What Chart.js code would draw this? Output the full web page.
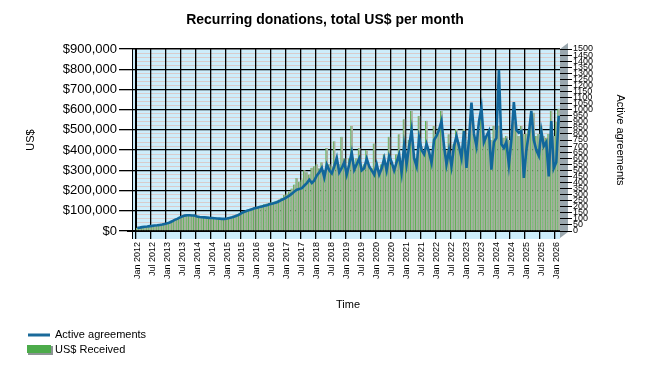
<!DOCTYPE html>
<html>
<head>
<meta charset="utf-8">
<script src="https://cdn.jsdelivr.net/npm/chart.js@4/dist/chart.umd.min.js"></script>
<style>
  html, body { margin: 0; padding: 0; background: #fff; }
</style>
</head>
<body>
<canvas id="chart" width="650" height="375"></canvas>
<script>
// month labels, Jan 2012 .. Feb 2026
var monthNames = ['Jan','Feb','Mar','Apr','May','Jun','Jul','Aug','Sep','Oct','Nov','Dec'];
var firstYear = 2012;
var monthCount = 170;

// US$ received per month
var usdReceived = [
  16000,18000,20000,22000,24000,25000,27000,28000,30000,32000,34000,37000,
  40000,45000,50000,57000,63000,70000,76000,80000,82000,82000,80000,80000,
  74000,72000,70000,70000,68000,67000,66000,65000,64000,63000,63000,62000,
  64000,68000,71000,75000,80000,86000,93000,98000,103000,108000,112000,118000,
  120000,124000,128000,132000,136000,140000,143000,146000,150000,156000,165000,178000,
  185000,195000,210000,230000,262000,245000,255000,300000,290000,280000,313000,320000,
  330000,310000,340000,300000,411000,330000,320000,444000,340000,330000,466000,360000,
  310000,360000,519000,330000,360000,411000,320000,330000,400000,320000,310000,433000,
  340000,300000,330000,380000,320000,466000,330000,320000,380000,478000,330000,552000,
  360000,450000,594000,380000,360000,569000,420000,400000,545000,400000,370000,519000,
  480000,510000,594000,430000,400000,478000,380000,430000,504000,440000,400000,505000,
  420000,450000,600000,480000,440000,500000,560000,470000,470000,500000,450000,520000,
  500000,520000,480000,460000,470000,450000,470000,540000,500000,470000,519000,480000,
  480000,500000,560000,585000,470000,480000,520000,470000,460000,480000,594000,470000,
  540000,605000
];

// active agreements per month (right axis)
var activeAgreements = [
  25,28,32,35,37,40,42,45,47,50,53,58,
  63,70,80,92,100,110,120,127,130,130,128,128,
  120,115,113,112,110,108,107,105,103,102,100,100,
  103,108,113,120,127,137,150,158,167,173,180,187,
  192,197,202,208,213,220,225,230,237,247,258,267,
  280,292,308,325,340,347,353,375,395,423,395,417,
  458,483,520,442,547,500,475,533,603,483,520,567,
  465,550,647,505,550,597,500,517,597,533,500,465,
  550,465,517,597,500,617,567,500,567,630,483,705,
  550,700,832,600,533,768,667,633,717,650,562,750,
  783,833,907,700,550,667,533,700,782,700,603,823,
  520,750,1058,800,700,900,1017,733,783,823,505,733,
  767,1328,717,685,733,547,750,1063,833,810,823,437,
  667,800,990,750,667,620,823,700,733,450,907,517,
  567,950
];

var labels = [];
for (var i = 0; i < monthCount; i++) {
  labels.push(monthNames[i % 12] + ' ' + (firstYear + Math.floor(i / 12)));
}

var FONT = '"Liberation Sans", Arial, sans-serif';

var decor = {
  id: 'decor',
  beforeDraw: function(chart) {
    var c = chart.ctx, a = chart.chartArea;
    c.save();
    // back wall + floor
    c.fillStyle = '#cdedfb';
    c.fillRect(a.left - 4, a.top, a.right - a.left + 4, a.bottom - a.top + 8);
    // right wall
    c.fillStyle = '#9aa7ae';
    c.beginPath();
    c.moveTo(a.right, a.top);
    c.lineTo(a.right + 8, a.top - 6);
    c.lineTo(a.right + 8, a.bottom + 1);
    c.lineTo(a.right, a.bottom + 7);
    c.closePath();
    c.fill();
    // top edge
    c.strokeStyle = '#a0a4a8';
    c.lineWidth = 2;
    c.beginPath();
    c.moveTo(a.left - 4, a.top);
    c.lineTo(a.right, a.top);
    c.stroke();
    c.restore();
  },
  afterDraw: function(chart) {
    var c = chart.ctx, a = chart.chartArea;
    c.save();
    // front edge lines
    c.strokeStyle = '#000';
    c.lineWidth = 1;
    c.beginPath();
    c.moveTo(a.left - 3.5, a.top);
    c.lineTo(a.left - 3.5, a.bottom + 8);
    c.moveTo(a.left - 9, a.bottom + 0.5);
    c.lineTo(a.left, a.bottom + 0.5);
    c.stroke();

    // title
    c.fillStyle = '#000';
    c.font = 'bold 14px ' + FONT;
    c.textAlign = 'center';
    c.textBaseline = 'middle';
    c.fillText('Recurring donations, total US$ per month', 325, 20);

    // legend
    c.textAlign = 'left';
    c.font = '11px ' + FONT;
    c.strokeStyle = '#1a6a9a';
    c.lineWidth = 3;
    c.beginPath();
    c.moveTo(28, 335);
    c.lineTo(50, 335);
    c.stroke();
    c.fillStyle = '#000';
    c.fillText('Active agreements', 55, 335);
    c.fillStyle = '#8c9494';
    c.fillRect(28, 346, 25, 9);
    c.fillStyle = '#4cab4a';
    c.fillRect(27, 345, 24, 8);
    c.fillStyle = '#000';
    c.fillText('US$ Received', 55, 350);
    c.restore();
  }
};

new Chart(document.getElementById('chart'), {
  type: 'bar',
  data: {
    labels: labels,
    datasets: [{
      type: 'line',
      label: 'Active agreements',
      data: activeAgreements,
      yAxisID: 'y2',
      borderColor: '#12679b',
      borderWidth: 2.6,
      pointRadius: 0,
      tension: 0,
      order: 0
    }, {
      type: 'bar',
      label: 'US$ Received',
      data: usdReceived,
      yAxisID: 'y',
      backgroundColor: '#a9b1a1',
      borderColor: '#5db155',
      borderWidth: { left: 1, right: 0, top: 0, bottom: 0 },
      borderSkipped: false,
      barPercentage: 1,
      categoryPercentage: 1,
      order: 1
    }]
  },
  options: {
    responsive: false,
    animation: false,
    layout: { padding: { top: 49, left: 0, right: 0, bottom: 0 } },
    plugins: {
      legend: { display: false },
      title: { display: false },
      tooltip: { enabled: false }
    },
    scales: {
      x: {
        afterFit: function(s) { s.height = 144; },
        grid: {
          z: -1,
          offset: true,
          color: function(ctx) { return ctx.index % 6 === 0 ? '#000' : 'rgba(0,0,0,0)'; },
          tickColor: function(ctx) { return ctx.index % 6 === 0 ? '#000' : 'rgba(0,0,0,0)'; },
          tickLength: 8,
          lineWidth: 1.3
        },
        border: { color: '#000', width: 1 },
        ticks: {
          autoSkip: false,
          maxRotation: 90,
          minRotation: 90,
          padding: 3,
          color: '#000',
          font: { family: FONT, size: 9 },
          callback: function(v, i) { return i % 6 === 0 ? this.getLabelForValue(v) : ''; }
        },
        title: {
          display: true,
          text: 'Time',
          color: '#000',
          font: { family: FONT, size: 11 },
          padding: { top: 0, bottom: 63 }
        }
      },
      y: {
        position: 'left',
        min: 0,
        max: 900000,
        afterFit: function(s) { s.width = 136; },
        grid: {
          z: -2,
          color: function(ctx) { return ctx.tick && ctx.tick.value % 100000 === 0 ? '#000' : '#d8cccc'; },
          tickColor: function(ctx) { return ctx.tick && ctx.tick.value % 100000 === 0 ? '#000' : 'rgba(0,0,0,0)'; },
          lineWidth: function(ctx) { return ctx.tick && ctx.tick.value % 100000 === 0 ? 1.3 : 1; },
          tickLength: 17
        },
        border: { color: '#000', width: 2 },
        ticks: {
          stepSize: 20000,
          autoSkip: false,
          padding: 2,
          color: '#000',
          font: { family: FONT, size: 13 },
          callback: function(v) {
            return v % 100000 === 0 ? '$' + v.toLocaleString('en-US') : '';
          }
        },
        title: {
          display: true,
          text: 'US$',
          color: '#000',
          font: { family: FONT, size: 11 },
          padding: { top: 24, bottom: 0 }
        }
      },
      y2: {
        position: 'right',
        min: 0,
        max: 1500,
        afterFit: function(s) { s.width = 90; },
        grid: { drawOnChartArea: false, color: '#000', tickLength: 12 },
        border: { display: false },
        ticks: {
          stepSize: 50,
          autoSkip: false,
          padding: 1,
          color: '#000',
          font: { family: FONT, size: 9 },
          callback: function(v) { return String(v); }
        },
        title: {
          display: true,
          text: 'Active agreements',
          color: '#000',
          font: { family: FONT, size: 11 },
          padding: { top: 23, bottom: 0 }
        }
      }
    }
  },
  plugins: [decor]
});
</script>
</body>
</html>
